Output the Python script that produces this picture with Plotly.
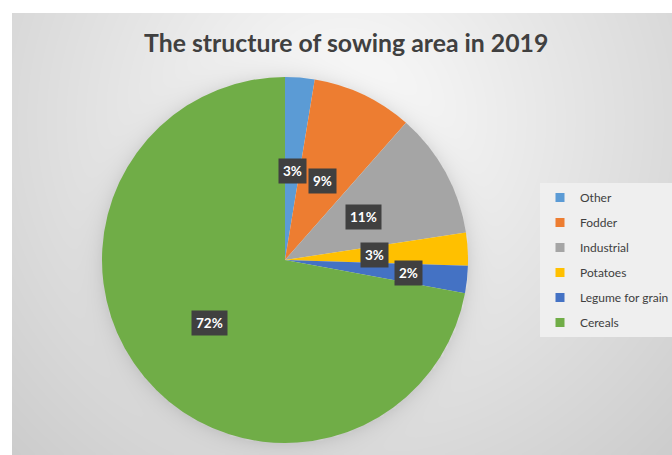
import numpy as np
import plotly.graph_objects as go

# ---- data ----
labels = ["Other", "Fodder", "Industrial", "Potatoes", "Legume for grain", "Cereals"]
values = [2.6, 8.9, 11.1, 2.9, 2.4, 72.1]
title_text = "The structure of sowing area in 2019"

# ---- style ----
colors = ["#5B9BD5", "#ED7D31", "#A5A5A5", "#FFC000", "#4472C4", "#70AD47"]
label_r = [0.49, 0.48, 0.49, 0.49, 0.68, 0.54]

W, H = 672, 455
frame_x0, frame_y0 = 12, 13
cx, cy, R = 285, 260, 183

# background gradient (decoration, pixel grid)
gx = np.arange(frame_x0, W + 1, 4)
gy = np.arange(frame_y0, H + 1, 4)
XX, YY = np.meshgrid(gx, gy)
d = np.hypot(XX - 345, YY - 120) / 470.0
gray = 252 - 48 * np.clip(d, 0, 1.2)
dp = np.hypot(XX - cx, YY - cy)
shadow = np.where(dp > R - 2, 20 * np.exp(-np.clip(dp - R, 0, None) / 9.0), 0)
gray = gray - shadow

fig = go.Figure()
fig.add_trace(go.Heatmap(
    x=gx, y=gy, z=gray, zmin=150, zmax=255,
    colorscale=[[0, "rgb(150,150,150)"], [1, "rgb(255,255,255)"]],
    showscale=False, hoverinfo="skip", zsmooth="best",
))

fig.add_trace(go.Pie(
    labels=labels, values=values, sort=False, direction="clockwise", rotation=0,
    marker=dict(colors=colors, line=dict(width=0)),
    textinfo="none", showlegend=False, hoverinfo="label+percent",
    domain=dict(x=[(cx - R) / W, (cx + R) / W], y=[(H - cy - R) / H, (H - cy + R) / H]),
))

# legend entries
for lab, col in zip(labels, colors):
    fig.add_trace(go.Scatter(
        x=[None], y=[None], mode="markers", name=lab, legendgroup=lab,
        marker=dict(symbol="square", size=9, color=col),
    ))

# percentage labels
total = sum(values)
annotations = []
cum = 0.0
for v, rf in zip(values, label_r):
    mid = (cum + v / 2) / total * 2 * np.pi
    cum += v
    pct = round(v / total * 100)
    annotations.append(dict(
        x=cx + rf * R * np.sin(mid), y=cy - rf * R * np.cos(mid),
        xref="x", yref="y", text=f"<b>{pct}%</b>", showarrow=False,
        font=dict(family="Lato", size=13.5, color="white"),
        bgcolor="#404040", borderpad=4,
    ))
annotations.append(dict(
    x=346, y=42, xref="x", yref="y", text=f"<b>{title_text}</b>", showarrow=False,
    font=dict(family="Lato", size=24.8, color="#404040"),
))

fig.update_layout(
    width=W, height=H, margin=dict(l=0, r=0, t=0, b=0, autoexpand=False),
    paper_bgcolor="white", plot_bgcolor="white",
    xaxis=dict(domain=[frame_x0 / W, 1], range=[frame_x0, W], visible=False, fixedrange=True),
    yaxis=dict(domain=[0, 1 - frame_y0 / H], range=[H, frame_y0], visible=False, fixedrange=True),
    legend=dict(x=540 / W, y=1 - 183 / H, xanchor="left", yanchor="top",
                bgcolor="#efefef", font=dict(family="Lato", size=12, color="#404040"),
                tracegroupgap=6, itemwidth=30, traceorder="grouped"),
    annotations=annotations,
    showlegend=True,
)

fig.write_html("out.html", config={"displayModeBar": False},
               post_script="document.body.style.margin='0';")
